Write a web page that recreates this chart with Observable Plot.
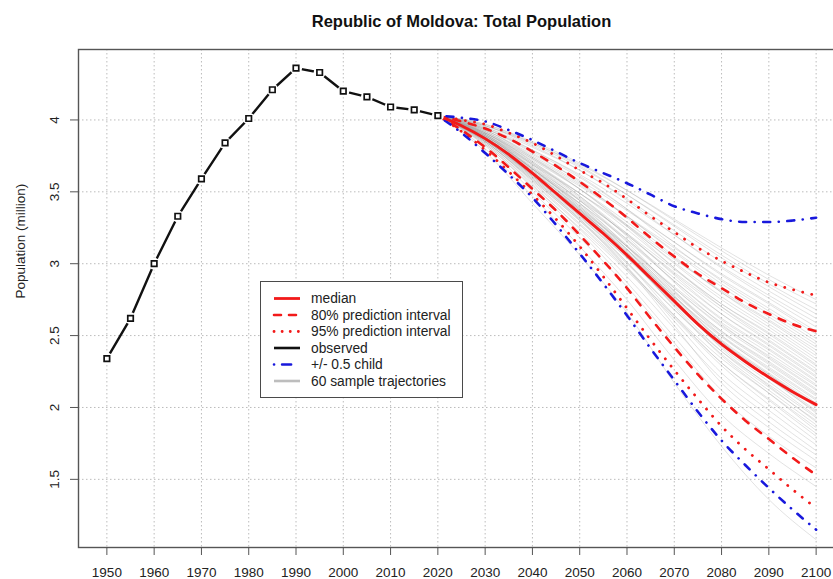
<!DOCTYPE html>
<html>
<head>
<meta charset="utf-8">
<script src="https://cdn.jsdelivr.net/npm/d3@7"></script>
<script src="https://cdn.jsdelivr.net/npm/@observablehq/plot@0.6"></script>
<style>
  body { margin: 0; background: #fff; }
  #wrap { position: relative; width: 833px; height: 579px; overflow: hidden; font-family: "Liberation Sans", Arial, sans-serif; }
  #legend { position: absolute; left: 260px; top: 281px; width: 201px; height: 115px; border: 1.5px solid #4a4a4a; background: #fff; }
  #legend svg { display: block; }
</style>
</head>
<body>
<div id="wrap"></div>
<script>
// ---------- data ----------
const title = "Republic of Moldova: Total Population";
const yLabel = "Population (million)";

const obsYears = [1950, 1955, 1960, 1965, 1970, 1975, 1980, 1985, 1990, 1995, 2000, 2005, 2010, 2015, 2020];
const obsPop   = [2.34, 2.62, 3.00, 3.33, 3.59, 3.84, 4.01, 4.21, 4.36, 4.33, 4.20, 4.16, 4.09, 4.07, 4.03];

const projYears = [2020, 2025, 2030, 2035, 2040, 2045, 2050, 2055, 2060, 2065, 2070, 2075, 2080, 2085, 2090, 2095, 2100];
const median    = [4.03, 3.96, 3.87, 3.76, 3.63, 3.49, 3.35, 3.21, 3.06, 2.90, 2.74, 2.58, 2.44, 2.32, 2.21, 2.11, 2.02];
const pi80High  = [4.03, 3.99, 3.94, 3.87, 3.78, 3.68, 3.57, 3.45, 3.32, 3.18, 3.05, 2.93, 2.83, 2.73, 2.65, 2.58, 2.53];
const pi80Low   = [4.03, 3.93, 3.81, 3.67, 3.52, 3.37, 3.20, 3.02, 2.83, 2.62, 2.42, 2.23, 2.06, 1.91, 1.78, 1.65, 1.53];
const pi95High  = [4.03, 4.00, 3.97, 3.91, 3.84, 3.75, 3.65, 3.56, 3.45, 3.33, 3.22, 3.11, 3.02, 2.94, 2.87, 2.82, 2.78];
const pi95Low   = [4.03, 3.92, 3.79, 3.64, 3.48, 3.31, 3.12, 2.91, 2.69, 2.47, 2.26, 2.06, 1.87, 1.71, 1.57, 1.43, 1.30];
const childHigh = [4.03, 4.015, 3.99, 3.93, 3.86, 3.78, 3.70, 3.63, 3.56, 3.48, 3.40, 3.35, 3.31, 3.29, 3.29, 3.30, 3.32];
const childLow  = [4.03, 3.91, 3.77, 3.62, 3.46, 3.27, 3.07, 2.86, 2.64, 2.41, 2.19, 1.97, 1.77, 1.60, 1.44, 1.29, 1.15];

const trajYears = [2020, 2030, 2040, 2050, 2060, 2070, 2080, 2090, 2100];
const trajectories = [
  [4.03, 3.78, 3.42, 3.06, 2.66, 2.17, 1.73, 1.36, 1.08],
  [4.03, 3.80, 3.47, 3.12, 2.75, 2.33, 1.95, 1.68, 1.45],
  [4.03, 3.82, 3.50, 3.18, 2.84, 2.45, 2.07, 1.80, 1.58],
  [4.03, 3.83, 3.53, 3.22, 2.87, 2.49, 2.12, 1.86, 1.63],
  [4.03, 3.85, 3.58, 3.30, 2.97, 2.57, 2.17, 1.90, 1.67],
  [4.03, 3.84, 3.55, 3.24, 2.91, 2.55, 2.20, 1.94, 1.70],
  [4.03, 3.86, 3.60, 3.31, 2.98, 2.60, 2.24, 1.98, 1.74],
  [4.03, 3.83, 3.54, 3.25, 2.95, 2.62, 2.29, 2.02, 1.77],
  [4.03, 3.87, 3.61, 3.33, 3.01, 2.64, 2.31, 2.05, 1.80],
  [4.03, 3.85, 3.57, 3.28, 2.97, 2.63, 2.31, 2.06, 1.82],
  [4.03, 3.88, 3.64, 3.38, 3.07, 2.70, 2.36, 2.10, 1.84],
  [4.03, 3.84, 3.56, 3.27, 2.96, 2.64, 2.34, 2.10, 1.86],
  [4.03, 3.86, 3.59, 3.31, 3.01, 2.68, 2.37, 2.12, 1.88],
  [4.03, 3.89, 3.66, 3.40, 3.10, 2.75, 2.41, 2.15, 1.90],
  [4.03, 3.87, 3.62, 3.35, 3.05, 2.71, 2.39, 2.14, 1.91],
  [4.03, 3.85, 3.58, 3.30, 3.00, 2.68, 2.39, 2.16, 1.93],
  [4.03, 3.88, 3.63, 3.37, 3.07, 2.73, 2.42, 2.18, 1.94],
  [4.03, 3.90, 3.67, 3.42, 3.12, 2.78, 2.46, 2.21, 1.96],
  [4.03, 3.86, 3.60, 3.33, 3.04, 2.72, 2.43, 2.20, 1.97],
  [4.03, 3.87, 3.61, 3.34, 3.05, 2.74, 2.45, 2.21, 1.98],
  [4.03, 3.88, 3.64, 3.38, 3.08, 2.76, 2.46, 2.23, 2.00],
  [4.03, 3.85, 3.59, 3.32, 3.04, 2.73, 2.45, 2.23, 2.01],
  [4.03, 3.89, 3.65, 3.39, 3.10, 2.77, 2.47, 2.24, 2.02],
  [4.03, 3.91, 3.69, 3.44, 3.15, 2.81, 2.50, 2.26, 2.03],
  [4.03, 3.87, 3.62, 3.36, 3.08, 2.77, 2.49, 2.27, 2.05],
  [4.03, 3.86, 3.61, 3.35, 3.07, 2.77, 2.50, 2.28, 2.06],
  [4.03, 3.88, 3.63, 3.37, 3.09, 2.79, 2.52, 2.30, 2.08],
  [4.03, 3.90, 3.66, 3.40, 3.12, 2.81, 2.53, 2.31, 2.09],
  [4.03, 3.87, 3.62, 3.37, 3.10, 2.80, 2.53, 2.32, 2.10],
  [4.03, 3.89, 3.66, 3.41, 3.13, 2.83, 2.56, 2.34, 2.12],
  [4.03, 3.92, 3.71, 3.47, 3.19, 2.87, 2.58, 2.35, 2.13],
  [4.03, 3.88, 3.64, 3.39, 3.12, 2.83, 2.57, 2.36, 2.15],
  [4.03, 3.86, 3.62, 3.38, 3.12, 2.84, 2.59, 2.38, 2.16],
  [4.03, 3.90, 3.68, 3.44, 3.17, 2.88, 2.61, 2.40, 2.18],
  [4.03, 3.89, 3.66, 3.42, 3.16, 2.88, 2.62, 2.41, 2.19],
  [4.03, 3.91, 3.70, 3.47, 3.21, 2.92, 2.65, 2.43, 2.21],
  [4.03, 3.88, 3.65, 3.42, 3.17, 2.90, 2.65, 2.44, 2.22],
  [4.03, 3.90, 3.69, 3.46, 3.20, 2.93, 2.68, 2.46, 2.24],
  [4.03, 3.93, 3.74, 3.52, 3.26, 2.97, 2.70, 2.47, 2.25],
  [4.03, 3.89, 3.67, 3.45, 3.20, 2.94, 2.70, 2.49, 2.27],
  [4.03, 3.91, 3.71, 3.49, 3.24, 2.97, 2.72, 2.51, 2.29],
  [4.03, 3.88, 3.66, 3.44, 3.21, 2.96, 2.72, 2.52, 2.30],
  [4.03, 3.92, 3.73, 3.52, 3.27, 3.00, 2.75, 2.54, 2.32],
  [4.03, 3.90, 3.70, 3.49, 3.26, 3.01, 2.77, 2.56, 2.34],
  [4.03, 3.94, 3.77, 3.57, 3.32, 3.05, 2.80, 2.58, 2.36],
  [4.03, 3.91, 3.72, 3.52, 3.29, 3.04, 2.80, 2.60, 2.38],
  [4.03, 3.89, 3.69, 3.49, 3.27, 3.03, 2.81, 2.61, 2.40],
  [4.03, 3.93, 3.75, 3.56, 3.33, 3.08, 2.84, 2.63, 2.42],
  [4.03, 3.92, 3.74, 3.55, 3.33, 3.09, 2.86, 2.65, 2.44],
  [4.03, 3.95, 3.79, 3.61, 3.38, 3.12, 2.88, 2.67, 2.46],
  [4.03, 3.91, 3.73, 3.54, 3.33, 3.11, 2.89, 2.69, 2.48],
  [4.03, 3.94, 3.78, 3.60, 3.38, 3.15, 2.92, 2.72, 2.51],
  [4.03, 3.93, 3.76, 3.58, 3.37, 3.15, 2.93, 2.73, 2.53],
  [4.03, 3.96, 3.82, 3.65, 3.44, 3.20, 2.97, 2.76, 2.56],
  [4.03, 3.94, 3.79, 3.62, 3.42, 3.20, 2.98, 2.78, 2.59],
  [4.03, 3.95, 3.81, 3.65, 3.45, 3.23, 3.01, 2.81, 2.62],
  [4.03, 3.97, 3.84, 3.68, 3.48, 3.26, 3.04, 2.84, 2.65],
  [4.03, 3.96, 3.83, 3.67, 3.48, 3.27, 3.06, 2.86, 2.68],
  [4.03, 3.97, 3.85, 3.70, 3.51, 3.30, 3.09, 2.89, 2.72],
  [4.03, 3.96, 3.84, 3.69, 3.51, 3.31, 3.11, 2.92, 2.75]
];

const xTicks = [1950, 1960, 1970, 1980, 1990, 2000, 2010, 2020, 2030, 2040, 2050, 2060, 2070, 2080, 2090, 2100];
const yTicks = [1.5, 2, 2.5, 3, 3.5, 4];

const legendLabels = ["median", "80% prediction interval", "95% prediction interval", "observed", "+/- 0.5 child", "60 sample trajectories"];

// ---------- styles ----------
const RED = "#f21a1a", BLUE = "#1818dc", BLACK = "#111";
const DASH = "7,9", DOT = "0.1,9.2", DOTDASH = "0.1,8.5,7,8.5";
const legendStyles = [
  {stroke: RED, dash: null, w: 2.8},
  {stroke: RED, dash: "7,8", w: 2.6},
  {stroke: RED, dash: "0.1,8", w: 2.8},
  {stroke: BLACK, dash: null, w: 2.6},
  {stroke: BLUE, dash: "0.1,8,9,20", w: 2.6},
  {stroke: "#bdbdbd", dash: null, w: 2.6}
];

// ---------- tables ----------
const proj = projYears.map((year, i) => ({
  year, median: median[i], pi80High: pi80High[i], pi80Low: pi80Low[i],
  pi95High: pi95High[i], pi95Low: pi95Low[i], childHigh: childHigh[i], childLow: childLow[i]
}));
const obs = obsYears.map((year, i) => ({year, value: obsPop[i]}));
const traj = trajectories.flatMap((row, id) => row.map((value, j) => ({id, year: trajYears[j], value})));

const projLine = (key, stroke, dash, w) => Plot.line(proj, {
  x: "year", y: key, stroke, strokeWidth: w, strokeDasharray: dash,
  strokeLinecap: "round", strokeLinejoin: "round", curve: "monotone-x"
});

const chart = Plot.plot({
  width: 833,
  height: 579,
  marginLeft: 78,
  marginTop: 49,
  marginBottom: 32,
  marginRight: -11,
  style: {fontFamily: "'Liberation Sans', Arial, sans-serif", fontSize: "13.5px", color: "#222", background: "#fff"},
  x: {domain: [1944, 2106]},
  y: {domain: [1.026, 4.49]},
  marks: [
    Plot.gridX(xTicks, {stroke: "#bcbcbc", strokeOpacity: 1, strokeWidth: 1, strokeDasharray: "1.5,2.5"}),
    Plot.gridY(yTicks, {stroke: "#bcbcbc", strokeOpacity: 1, strokeWidth: 1, strokeDasharray: "1.5,2.5"}),
    Plot.line(traj, {x: "year", y: "value", z: "id", stroke: "#9a9a9a", strokeOpacity: 0.32, strokeWidth: 0.9, curve: "monotone-x"}),
    projLine("pi95High", RED, DOT, 2.8),
    projLine("pi95Low", RED, DOT, 2.8),
    projLine("pi80High", RED, DASH, 2.6),
    projLine("pi80Low", RED, DASH, 2.6),
    projLine("childHigh", BLUE, DOTDASH, 2.6),
    projLine("childLow", BLUE, DOTDASH, 2.6),
    projLine("median", RED, null, 2.9),
    Plot.line(obs, {x: "year", y: "value", stroke: BLACK, strokeWidth: 2.4}),
    Plot.dot(obs, {x: "year", y: "value", r: 6, fill: "#fff", stroke: "none"}),
    Plot.dot(obs, {x: "year", y: "value", symbol: "square", r: 3.1, fill: "#fff", stroke: BLACK, strokeWidth: 1.7}),
    Plot.frame({stroke: "#555", strokeWidth: 1.4}),
    Plot.axisX(xTicks, {anchor: "bottom", label: null, tickSize: 8, tickPadding: 12, tickFormat: d => String(d), stroke: "#555", fontSize: 13.5, fill: "#222"}),
    Plot.axisY(yTicks, {anchor: "left", label: null, tickSize: 8, tickPadding: 16, tickRotate: -90, textAnchor: "middle", lineAnchor: "middle", tickFormat: d => String(d), stroke: "#555", fontSize: 13.5, fill: "#222"}),
    Plot.text([yLabel], {frameAnchor: "left", dx: -58, rotate: -90, fontSize: 13.5, fill: "#222"}),
    Plot.text([title], {frameAnchor: "top", dy: -34, fontSize: 16.5, fontWeight: "bold", fill: "#111"})
  ]
});

const wrap = document.getElementById("wrap");
wrap.appendChild(chart);

// ---------- legend ----------
const leg = document.createElement("div");
leg.id = "legend";
wrap.appendChild(leg);
const lsvg = d3.select(leg).append("svg").attr("width", 201).attr("height", 115)
  .style("font-family", "'Liberation Sans', Arial, sans-serif").style("font-size", "13.8px");
legendLabels.forEach((label, i) => {
  const y = 16.5 + i * 16.5;
  const st = legendStyles[i];
  lsvg.append("line").attr("x1", 13).attr("x2", 39).attr("y1", y).attr("y2", y)
    .attr("stroke", st.stroke).attr("stroke-width", st.w)
    .attr("stroke-dasharray", st.dash).attr("stroke-linecap", st.dash ? "round" : "butt");
  lsvg.append("text").attr("x", 50).attr("y", y).attr("dy", "0.35em").attr("fill", "#222").text(label);
});
</script>
</body>
</html>
